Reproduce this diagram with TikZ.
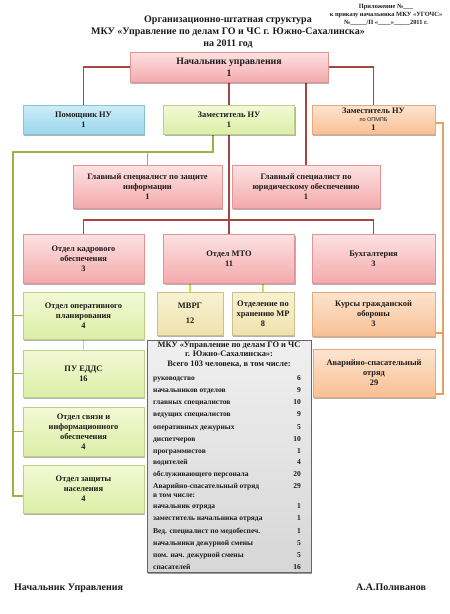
\documentclass[tikz,border=0pt]{standalone}
\usepackage{fontspec}
\setmainfont{Liberation Serif}
\newfontfamily\sansf{Liberation Sans}
\usetikzlibrary{shadows,backgrounds}
\definecolor{cRed}{HTML}{A84444}
\definecolor{cGreen}{HTML}{9DB244}
\definecolor{cYel}{HTML}{E6D444}
\definecolor{cOrg}{HTML}{E8A062}
\definecolor{pinkT}{HTML}{FDE2E2}
\definecolor{pinkB}{HTML}{F3AAAC}
\definecolor{pinkD}{HTML}{E29494}
\definecolor{blueT}{HTML}{CDEEF9}
\definecolor{blueB}{HTML}{9AD5EC}
\definecolor{blueD}{HTML}{86C2DA}
\definecolor{grnT}{HTML}{F3F9D6}
\definecolor{grnB}{HTML}{DCEEA6}
\definecolor{grnD}{HTML}{BCD088}
\definecolor{orgT}{HTML}{FDE4CF}
\definecolor{orgB}{HTML}{F8C094}
\definecolor{orgD}{HTML}{E8A87C}
\definecolor{tanT}{HTML}{F8F2D2}
\definecolor{tanB}{HTML}{EEE2AE}
\definecolor{tanD}{HTML}{CDBF8C}
\definecolor{txt}{HTML}{1E1A1A}
\begin{document}
\begin{tikzpicture}[x=1pt,y=-1pt,
  boxbase/.style={rectangle, draw, line width=0.6pt, align=center, inner sep=1pt, text=txt,
    font=\bfseries\fontsize{8.4}{10}\selectfont,
    drop shadow={shadow xshift=1.3pt,shadow yshift=-1.5pt,opacity=0.3,fill=black}},
  boxpink/.style={boxbase, draw=pinkD, top color=pinkT, bottom color=pinkB},
  boxblue/.style={boxbase, draw=blueD, top color=blueT, bottom color=blueB},
  boxgrn/.style={boxbase, draw=grnD, top color=grnT, bottom color=grnB},
  boxorg/.style={boxbase, draw=orgD, top color=orgT, bottom color=orgB},
  boxtan/.style={boxbase, draw=tanD, top color=tanT, bottom color=tanB},
  boxgray/.style={rectangle, draw=gray!80!black, line width=0.8pt, top color=gray!12, bottom color=gray!32,
    drop shadow={shadow xshift=1.3pt,shadow yshift=-1.5pt,opacity=0.4,fill=black}},
  redl/.style={draw=cRed, line width=1.4pt},
  grnl/.style={draw=cGreen, line width=1.4pt},
  yell/.style={draw=cYel, line width=1.4pt},
  orgl/.style={draw=cOrg, line width=1.4pt},
  rowtxt/.style={inner sep=0pt, text=txt, font=\bfseries\fontsize{7.5}{8}\selectfont}
]
\useasboundingbox (0,0) rectangle (450,614);

% titles
\node[align=center, text=txt, font=\bfseries\fontsize{10}{12}\selectfont] (title) at (228,32)
  {Организационно-штатная структура\\МКУ «Управление по делам ГО и ЧС г. Южно-Сахалинска»\\на 2011 год};
\node[align=center, text=txt, font=\bfseries\fontsize{6.4}{8}\selectfont] (appx) at (386,15)
  {Приложение №\_\_\_\\к приказу начальника МКУ «УГОЧС»\\№\_\_\_\_\_/П «\_\_\_\_»\_\_\_\_\_2011 г.};

% boxes
\node[boxpink, minimum width=198pt, minimum height=30pt, font=\bfseries\fontsize{9.8}{12}\selectfont] (boss) at (229,67) {Начальник управления\\1};
\node[boxblue, minimum width=121pt, minimum height=29pt] (pom) at (83.5,119.5) {Помощник НУ\\1};
\node[boxgrn, minimum width=131pt, minimum height=29pt] (zam) at (229,119.5) {Заместитель НУ\\1};
\node[boxorg, minimum width=123pt, minimum height=29pt] (zamo) at (373.5,119.5) {Заместитель НУ\\[-2pt]{\sansf\mdseries\fontsize{5.5}{6}\selectfont по ОПМПБ}\\[-1pt]1};
\node[boxpink, minimum width=149pt, minimum height=43pt] (gsz) at (147.5,186.5) {Главный специалист по защите\\информации\\1};
\node[boxpink, minimum width=148pt, minimum height=43pt] (gsu) at (306,186.5) {Главный специалист по\\юридическому обеспечению\\1};
\node[boxpink, minimum width=121pt, minimum height=49pt] (okad) at (83.5,258.5) {Отдел кадрового\\обеспечения\\3};
\node[boxpink, minimum width=131pt, minimum height=49pt] (mto) at (229,258.5) {Отдел МТО\\11};
\node[boxpink, minimum width=123pt, minimum height=49pt] (buh) at (373.5,258.5) {Бухгалтерия\\3};
\node[boxgrn, minimum width=121pt, minimum height=47pt] (oop) at (83.5,315.5) {Отдел оперативного\\планирования\\4};
\node[boxtan, minimum width=66pt, minimum height=43pt] (mvrg) at (190,313.5) {МВРГ\\[5pt]12};
\node[boxtan, minimum width=62pt, minimum height=43pt] (ohr) at (263,313.5) {Отделение по\\хранению МР\\8};
\node[boxorg, minimum width=123pt, minimum height=44pt] (kurs) at (373.5,314) {Курсы гражданской\\обороны\\3};
\node[boxgrn, minimum width=121pt, minimum height=47pt] (edds) at (83.5,373.5) {ПУ ЕДДС\\16};
\node[boxgrn, minimum width=121pt, minimum height=49pt] (svz) at (83.5,431.5) {Отдел связи и\\информационного\\обеспечения\\4};
\node[boxgrn, minimum width=121pt, minimum height=48pt] (zas) at (83.5,489) {Отдел защиты\\населения\\4};
\node[boxorg, minimum width=122pt, minimum height=48pt] (avar) at (374,373) {Аварийно-спасательный\\отряд\\29};

% summary table
\node[boxgray, minimum width=164pt, minimum height=232pt] (tbl) at (229,456) {};
\node[align=center, rowtxt, font=\bfseries\fontsize{8.4}{9.6}\selectfont] (thead) at (229,354.5)
  {МКУ «Управление по делам ГО и ЧС\\г. Южно-Сахалинска»:\\Всего 103 человека, в том числе:};
\foreach [count=\i] \yy/\lab/\val in {
  378/руководство/6, 390/начальников отделов/9, 402/главных специалистов/10,
  414/ведущих специалистов/9, 426.5/оперативных дежурных/5, 438.5/диспетчеров/10,
  450.5/программистов/1, 462/водителей/4, 474/обслуживающего персонала/20,
  485.5/Аварийно-спасательный отряд/29, 494.5/в том числе:/{},
  506/начальник отряда/1, 518/заместитель начальника отряда/1,
  530.5/Вед. специалист по медобеспеч./1, 543/начальники дежурной смены/5,
  555/пом. нач. дежурной смены/5, 567/спасателей/16}{
  \node[rowtxt, anchor=base west] (rl\i) at (153,\yy+2.5) {\lab};
  \node[rowtxt, anchor=base east] (rv\i) at (301,\yy+2.5) {\val};
}

% footer
\node[anchor=base west, inner sep=0pt, text=txt, font=\bfseries\fontsize{10}{12}\selectfont] (chief) at (14,590) {Начальник Управления};
\node[anchor=base west, inner sep=0pt, text=txt, font=\bfseries\fontsize{10}{12}\selectfont] (sign) at (356,590) {А.А.Поливанов};

% connectors
\coordinate (rb) at (229,220);
\coordinate (gz) at (213,152);
\coordinate (gt) at (13,152);
\coordinate (gb) at (13,496);
\coordinate (ot) at (443,123);
\coordinate (ok) at (443,333);
\coordinate (ob) at (443,394);
\begin{pgfonlayer}{background}
  \fill[white] (0,0) rectangle (450,614);
  \draw[redl] (boss.west) -| (pom.north);
  \draw[redl] (boss.east) -| (zamo.north);
  \draw[redl] (boss.south) -- (mto.north);
  \draw[redl] (okad.north) |- (rb) -| (buh.north);
  \draw[redl] (gsu.north) -- (gsu.north |- boss.south);
  \draw[grnl] (zam.south -| gz) -- (gz) -- (gt) -- (gb) -- (gb -| zas.west);
  \draw[grnl] (gz -| gsz.north) -- (gsz.north);
  \draw[grnl] (gt |- oop.west) -- (oop.west);
  \draw[grnl] (gt |- edds.west) -- (edds.west);
  \draw[grnl] (gt |- svz.west) -- (svz.west);
  \draw[yell] (oop.south) -- (edds.north);
  \draw[yell] (mto.south -| mvrg.north) -- (mvrg.north);
  \draw[yell] (mto.south -| ohr.north) -- (ohr.north);
  \draw[orgl] (zamo.east |- ot) -- (ot) -- (ob) -- (ob -| avar.east);
  \draw[orgl] (ok) -- (ok -| kurs.east);
\end{pgfonlayer}
\end{tikzpicture}
\end{document}
